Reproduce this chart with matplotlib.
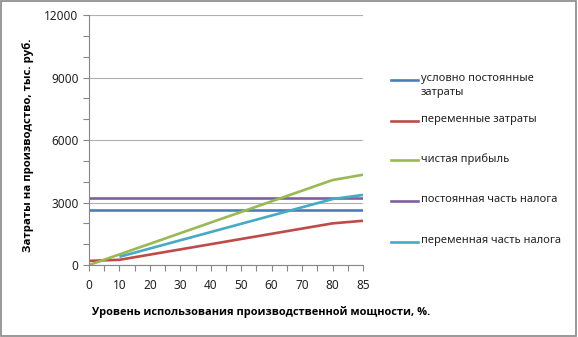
import numpy as np
import matplotlib
matplotlib.use('Agg')
import matplotlib.pyplot as plt
from matplotlib.lines import Line2D
from matplotlib.patches import Rectangle

plt.rcParams['font.family'] = ['Noto Sans', 'DejaVu Sans']

# уровень использования мощности, %
categories = ['0', '10', '20', '30', '40', '50', '60', '70', '80', '85']

fixed_costs = [2650, 2650, 2650, 2650, 2650, 2650, 2650, 2650, 2650, 2650]
variable_costs = [200, 250, 500, 750, 1000, 1250, 1500, 1750, 2000, 2125]
net_profit = [0, 510, 1020, 1530, 2040, 2550, 3060, 3570, 4080, 4335]
fixed_tax = [3200, 3200, 3200, 3200, 3200, 3200, 3200, 3200, 3200, 3200]
variable_tax = [np.nan, 396, 792, 1188, 1584, 1980, 2376, 2772, 3168, 3366]

labels = ['условно постоянные\nзатраты', 'переменные затраты', 'чистая прибыль',
          'постоянная часть налога', 'переменная часть налога']
colors = ['#4a7ebb', '#be4b48', '#98b954', '#7d60a0', '#46aac5']
series = [fixed_costs, variable_costs, net_profit, fixed_tax, variable_tax]

fig = plt.figure(figsize=(5.78, 3.37), dpi=100)
ax = fig.add_axes([0.154, 0.2136, 0.474, 0.7414])

x = np.arange(len(categories))
# порядок отрисовки: сначала горизонтальные
for idx in [3, 0, 1, 2, 4]:
    ax.plot(x, series[idx], color=colors[idx], lw=1.9, solid_capstyle='butt')

ax.set_xlim(0, len(categories) - 1)
ax.set_ylim(0, 12000)
ax.set_xticks(x)
ax.set_xticklabels(categories)
ax.set_xticks(np.arange(0.5, len(categories) - 1, 1), minor=True)
ax.set_yticks(np.arange(0, 12001, 3000))
ax.set_yticks(np.arange(0, 12001, 1000), minor=True)
ax.yaxis.grid(True, color='#b0b0b0', lw=0.8)
ax.set_axisbelow(True)

for s in ['top', 'right']:
    ax.spines[s].set_visible(False)
for s in ['left', 'bottom']:
    ax.spines[s].set_color('#868686')
    ax.spines[s].set_linewidth(0.8)

ax.tick_params(which='both', direction='out', length=4, color='#868686', width=0.8,
               labelsize=8.5, labelcolor='#222222')
ax.tick_params(axis='x', pad=6)

bold_font = dict(family=['Open Sans', 'DejaVu Sans'], fontweight='bold')
ax.set_ylabel('Затраты на производство, тыс. руб.', fontsize=8.2, **bold_font)
ax.yaxis.set_label_coords(-0.2, 0.48)
ax.set_xlabel('Уровень использования производственной мощности, %.', fontsize=7.9, **bold_font)
ax.xaxis.set_label_coords(0.628, -0.164)

# легенда
W, H = 578, 337
legend_y = [80, 121, 160, 201, 242]
for lab, col, yy in zip(labels, colors, legend_y):
    fig.add_artist(Line2D([391 / W, 418 / W], [1 - yy / H, 1 - yy / H], color=col, lw=1.9))
    fig.text(421 / W, 1 - (yy - 7) / H, lab, fontsize=8, va='top', ha='left',
             color='#222222', linespacing=1.35)

fig.add_artist(Rectangle((0.002, 0.003), 0.995, 0.994, transform=fig.transFigure,
                         fill=False, edgecolor='#888888', lw=1.2))

fig.savefig('out.png', dpi=100)
